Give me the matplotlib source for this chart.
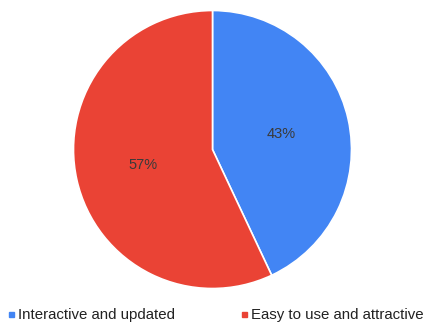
import matplotlib
matplotlib.use("Agg")
from matplotlib import pyplot as plt
from matplotlib.patches import Rectangle

labels = ["Interactive and updated", "Easy to use and attractive"]
shares = [43, 57]
colors = ["#4285F4", "#EA4335"]

plt.rcParams['font.family'] = ['Liberation Sans', 'DejaVu Sans']

W, H = 427, 323
fig = plt.figure(figsize=(W / 100, H / 100), dpi=100)

# pie centre ~(212,150) px, radius ~139 px
cx, cy, r = 212.5, 149.5, 139
ax = fig.add_axes([(cx - r) / W, (H - cy - r) / H, 2 * r / W, 2 * r / H])
ax.pie(shares, colors=colors, startangle=90, counterclock=False,
       autopct='%d%%', pctdistance=0.51,
       wedgeprops=dict(edgecolor='white', linewidth=1.2),
       textprops=dict(fontsize=10.5, color='#3a3a3a'))
ax.set_xlim(-1, 1)
ax.set_ylim(-1, 1)
ax.set_aspect('equal')

# legend along the bottom
legend_x = [9, 242]
for x0, lab, col in zip(legend_x, labels, colors):
    fig.patches.append(Rectangle((x0 / W, (H - 317) / H), 5 / W, 5 / H,
                                 transform=fig.transFigure, color=col))
    fig.text((x0 + 9.5) / W, (H - 319.5) / H, lab, fontsize=10.8,
             color='#222222', va='baseline', ha='left')

fig.savefig("out.png", dpi=100)
